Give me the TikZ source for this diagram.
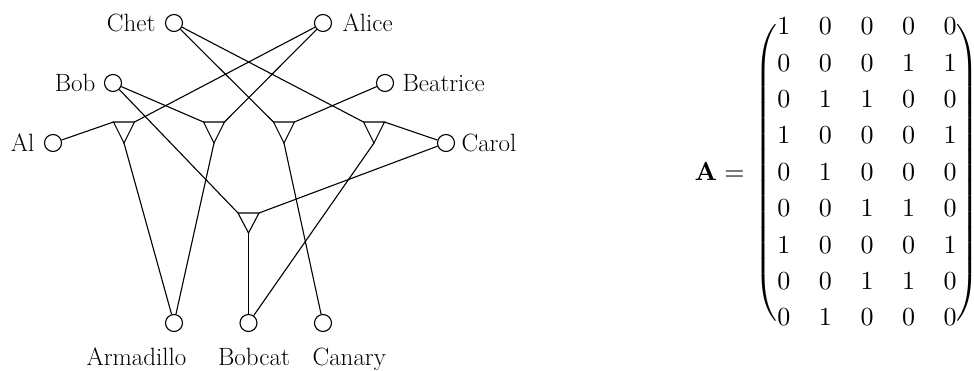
\documentclass[tikz,border=0pt]{standalone}
\usepackage{amsmath}
\begin{document}
\begin{tikzpicture}[x=1pt,y=-1pt,line width=1.1pt,line join=miter,
  vtx/.style={circle,draw,minimum size=17pt,inner sep=0pt},
  lbl/.style={inner sep=0pt,font=\fontsize{25}{30}\selectfont},
  mth/.style={inner sep=0pt,scale=2.6,font=\fontsize{10}{14}\selectfont},
  tri/.style={draw},
  link/.style={draw}]
\useasboundingbox (0,0) rectangle (974,370);
% vertices
\node[vtx] (Chet) at (174,23) {};
\node[vtx] (Alice) at (323,23) {};
\node[vtx] (Bob) at (113,83) {};
\node[vtx] (Beatrice) at (385,83) {};
\node[vtx] (Al) at (53,143) {};
\node[vtx] (Carol) at (446,143) {};
\node[vtx] (Armadillo) at (174,323) {};
\node[vtx] (Bobcat) at (248.5,323) {};
\node[vtx] (Canary) at (323,323) {};
% labels
\node[lbl,anchor=base east] (lChet) at (156,31) {Chet};
\node[lbl,anchor=base west] (lAlice) at (342,31) {Alice};
\node[lbl,anchor=base east] (lBob) at (96,91) {Bob};
\node[lbl,anchor=base west] (lBeatrice) at (402,91) {Beatrice};
\node[lbl,anchor=base east] (lAl) at (35,151) {Al};
\node[lbl,anchor=base west] (lCarol) at (461,151) {Carol};
\node[lbl,anchor=base east] (lArmadillo) at (187,365) {Armadillo};
\node[lbl,anchor=base] (lBobcat) at (254,365) {Bobcat};
\node[lbl,anchor=base west] (lCanary) at (312,365) {Canary};
% hyperedge triangles
\coordinate (t1l) at (113.5,122); \coordinate (t1r) at (134.5,122); \coordinate (t1a) at (124,143);
\coordinate (t2l) at (203.5,122); \coordinate (t2r) at (224.5,122); \coordinate (t2a) at (214,143);
\coordinate (t3l) at (273.5,122); \coordinate (t3r) at (294.5,122); \coordinate (t3a) at (284,143);
\coordinate (t4l) at (363.5,122); \coordinate (t4r) at (384.5,122); \coordinate (t4a) at (374,143);
\coordinate (t5l) at (238,213); \coordinate (t5r) at (259,213); \coordinate (t5a) at (248.5,233);
\foreach \t in {t1,t2,t3,t4,t5}{\draw[tri] (\t l) -- (\t r) -- (\t a) -- cycle;}
% connectors
\draw[link] (Al) -- (t1l);
\draw[link] (Alice) -- (t1r);
\draw[link] (t1a) -- (Armadillo);
\draw[link] (Bob) -- (t2l);
\draw[link] (Alice) -- (t2r);
\draw[link] (t2a) -- (Armadillo);
\draw[link] (Chet) -- (t3l);
\draw[link] (Beatrice) -- (t3r);
\draw[link] (t3a) -- (Canary);
\draw[link] (Chet) -- (t4l);
\draw[link] (Carol) -- (t4r);
\draw[link] (t4a) -- (Bobcat);
\draw[link] (Bob) -- (t5l);
\draw[link] (Carol) -- (t5r);
\draw[link] (t5a) -- (Bobcat);
% matrix
\node[mth,anchor=base east] (Aeq) at (746,180) {$\mathbf{A} =$};
\node[mth,anchor=center] (Amat) at (867,173) {$\delimitershortfall=12pt\delimiterfactor=800\setlength{\arraycolsep}{5.5pt}\begin{pmatrix}
1&0&0&0&0\\
0&0&0&1&1\\
0&1&1&0&0\\
1&0&0&0&1\\
0&1&0&0&0\\
0&0&1&1&0\\
1&0&0&0&1\\
0&0&1&1&0\\
0&1&0&0&0
\end{pmatrix}$};
\end{tikzpicture}
\end{document}
